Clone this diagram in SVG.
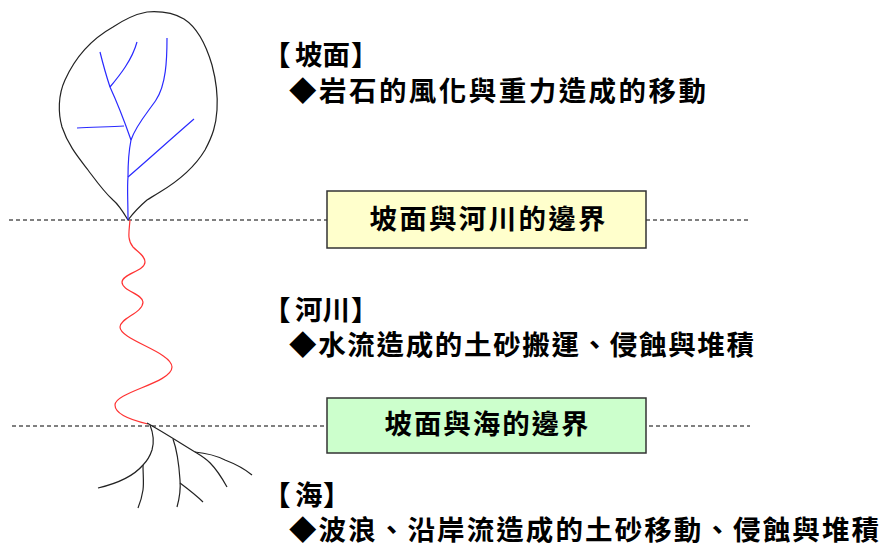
<svg xmlns="http://www.w3.org/2000/svg" width="885" height="547" viewBox="0 0 885 547">
  <style>
    .t { font-family: "Noto Sans CJK TC", "Noto Sans CJK SC", sans-serif; font-weight: bold; font-size: 27.5px; fill: #000; }
    .dash { fill: none; stroke: #000; stroke-width: 1; stroke-dasharray: 4 3; }
    .vein { fill: none; stroke: #2a2aff; stroke-width: 1.2; }
    .out { fill: none; stroke: #222; stroke-width: 1.2; }
    .box { stroke: #333; stroke-width: 1.5; }
  </style>
  <rect width="885" height="547" fill="#fff"/>

  <!-- boundary lines -->
  <g id="connectors">
    <line class="dash" x1="9" y1="220" x2="750" y2="220"/>
    <line class="dash" x1="12" y1="426" x2="750" y2="426"/>
  </g>

  <!-- slope: catchment outline with drainage network -->
  <g id="slope">
    <path class="out" d="M128,220 C122,210 118,204 113,200 C104,192 97,182 88,170 C78,157 68,145 62,127 C58,113 58,95 65,80 C74,60 90,40 113,27 C125,19 136,14 147,12 C160,11 172,12 184,19 C198,28 207,48 212,65 C216,80 218,95 217,110 C216,125 213,135 205,150 C196,165 180,180 160,192 C152,197 150,198 147,200 C140,206 134,212 128,220 Z"/>
    <path class="vein" d="M128,220 C128,200 127,188 128,177 C128,165 129,150 131,140"/>
    <path class="vein" d="M131,140 C124,120 116,100 110,87 C106,75 103,64 100,52"/>
    <path class="vein" d="M110,87 C120,75 132,60 137,42"/>
    <path class="vein" d="M124,126 C110,127 92,127 77,128"/>
    <path class="vein" d="M131,140 C136,125 148,112 156,100 C166,85 167,60 167,38"/>
    <path class="vein" d="M128,177 C150,158 172,138 194,119"/>
  </g>

  <!-- river -->
  <g id="river">
    <path fill="none" stroke="#ff3333" stroke-width="1.2" d="M130,220 C129,232 127,240 133,247 C139,253 145,256 145,262 C145,271 122,274 122,282 C122,291 143,294 143,302 C143,313 120,318 120,327 C120,340 172,352 172,367 C172,383 115,392 115,405 C115,415 135,421 148,424"/>
  </g>

  <!-- sea: delta distributaries -->
  <g id="sea">
    <path class="out" d="M147,423 C165,433 180,443 195,452 C205,458 213,462 227,487"/>
    <path class="out" d="M195,452 C205,453 215,455 225,460 C238,465 246,470 252,475"/>
    <path class="out" d="M173,439 C177,450 179,465 180,480 C181,492 179,500 177,507"/>
    <path class="out" d="M180,483 C188,489 196,495 203,502"/>
    <path class="out" d="M150,425 C154,435 154,443 152,450 C150,456 147,461 143,465 C132,478 115,484 98,488"/>
    <path class="out" d="M143,465 C143,475 144,482 143,490 C142,497 140,503 138,508"/>
  </g>

  <!-- slope description -->
  <g id="label-slope">
    <text class="t" y="65"><tspan x="263">【</tspan><tspan x="295">坡面</tspan><tspan x="351">】</tspan></text>
    <text class="t" x="289" y="101" textLength="417" lengthAdjust="spacing">◆岩石的風化與重力造成的移動</text>
  </g>

  <!-- slope / river boundary -->
  <g id="boundary-slope-river">
    <rect class="box" x="327" y="191" width="319" height="57" fill="#ffffcc"/>
    <text class="t" x="487.5" y="229" text-anchor="middle" textLength="236" lengthAdjust="spacing">坡面與河川的邊界</text>
  </g>

  <!-- river description -->
  <g id="label-river">
    <text class="t" y="320"><tspan x="263">【</tspan><tspan x="295">河川</tspan><tspan x="351">】</tspan></text>
    <text class="t" x="289" y="355" textLength="465" lengthAdjust="spacing">◆水流造成的土砂搬運、侵蝕與堆積</text>
  </g>

  <!-- slope / sea boundary -->
  <g id="boundary-slope-sea">
    <rect class="box" x="327" y="398" width="319" height="55" fill="#ccffcc"/>
    <text class="t" x="486.5" y="434" text-anchor="middle" textLength="204" lengthAdjust="spacing">坡面與海的邊界</text>
  </g>

  <!-- sea description -->
  <g id="label-sea">
    <text class="t" y="505"><tspan x="263">【</tspan><tspan x="295">海</tspan><tspan x="323">】</tspan></text>
    <text class="t" x="289" y="540" textLength="590" lengthAdjust="spacing">◆波浪、沿岸流造成的土砂移動、侵蝕與堆積</text>
  </g>
</svg>
